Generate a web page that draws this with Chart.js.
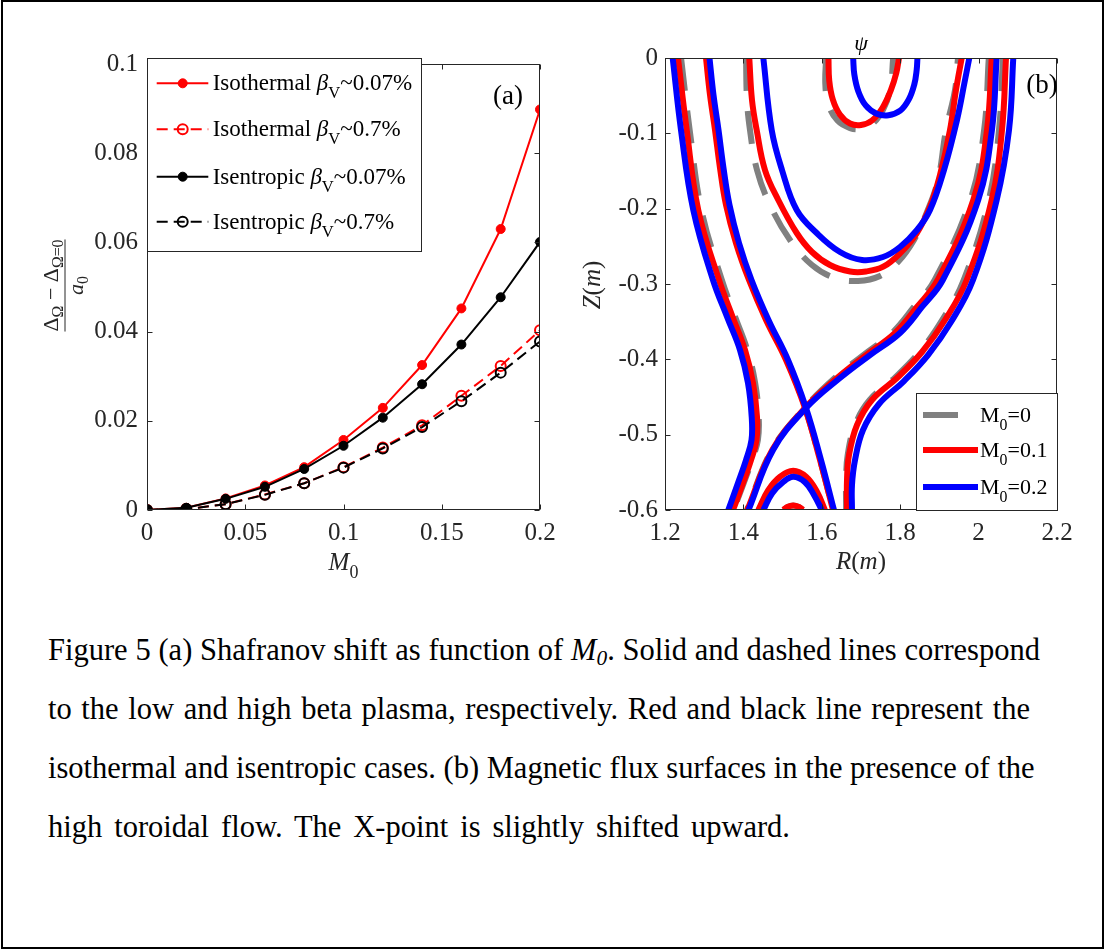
<!DOCTYPE html>
<html>
<head>
<meta charset="utf-8">
<script src="https://cdn.jsdelivr.net/npm/chart.js@4.4.1/dist/chart.umd.min.js"></script>
<style>
  html, body { margin: 0; padding: 0; background: #fff; }
  body { width: 1105px; height: 950px; position: relative; overflow: hidden; font-family: "Liberation Serif", "Times New Roman", serif; }
  #frame { position: absolute; left: 1px; top: 0; width: 1103px; height: 949px; border: 2px solid #000; box-sizing: border-box; }
  #wrapA { position: absolute; left: 40px; top: 40px; }
  #wrapB { position: absolute; left: 575px; top: 20px; }
  #caption { position: absolute; left: 48px; top: 621px; font-size: 30.5px; line-height: 59px; color: #000; white-space: nowrap; }
  #caption div { text-align: justify; text-align-last: justify; height: 59px; }
  #caption sub { font-size: 0.7em; line-height: 0; vertical-align: -0.25em; }
</style>
</head>
<body>
<div id="frame"></div>
<div id="wrapA"><canvas id="chartA" width="530" height="560"></canvas></div>
<div id="wrapB"><canvas id="chartB" width="520" height="580"></canvas></div>
<div id="caption">
  <div style="width:992px">Figure 5 (a) Shafranov shift as function of <i>M<sub>0</sub></i>. Solid and dashed lines correspond</div>
  <div style="width:982px">to the low and high beta plasma, respectively. Red and black line represent the</div>
  <div style="width:985px">isothermal and isentropic cases. (b) Magnetic flux surfaces in the presence of the</div>
  <div style="width:742px">high toroidal flow. The X-point is slightly shifted upward.</div>
</div>

<script>
// ---- panel (a): shift vs M0 ----
const machNumbers = [0, 0.02, 0.04, 0.06, 0.08, 0.1, 0.12, 0.14, 0.16, 0.18, 0.2];
const isothermalLow = [0, 0.0005, 0.0026, 0.0055, 0.0096, 0.0157, 0.0229, 0.0325, 0.0452, 0.063, 0.0898];
const isothermalHigh = [0, 0.0002, 0.0013, 0.0035, 0.006, 0.0096, 0.014, 0.019, 0.0256, 0.0323, 0.0403];
const isentropicLow = [0, 0.0005, 0.0025, 0.0052, 0.0092, 0.0144, 0.0207, 0.0282, 0.0371, 0.0477, 0.0601];
const isentropicHigh = [0, 0.0002, 0.0013, 0.0034, 0.006, 0.0095, 0.0138, 0.0186, 0.0244, 0.0308, 0.0378];
const xTicksA = [0, 0.05, 0.1, 0.15, 0.2];
const yTicksA = [0, 0.02, 0.04, 0.06, 0.08, 0.1];

// ---- panel (b): flux surfaces, [R, Z] pairs ----
// M0 = 0
const outerL_m00 = [[1.241,0],[1.263,-0.0956],[1.293,-0.2018],[1.345,-0.2947],[1.380,-0.3451],[1.410,-0.3876],[1.430,-0.4314],[1.439,-0.4766],[1.437,-0.5071],[1.422,-0.5337],[1.401,-0.5642],[1.375,-0.6]];
const sepA_m00 = [[1.307,0],[1.317,-0.0491],[1.330,-0.0956],[1.343,-0.146],[1.358,-0.1951],[1.384,-0.2456],[1.417,-0.2947],[1.460,-0.3478],[1.511,-0.4009],[1.5575,-0.4646],[1.5957,-0.5337],[1.6289,-0.6]];
const sepB_m00 = [[2.026,0],[2.014,-0.0956],[1.979,-0.1885],[1.888,-0.2947],[1.835,-0.3305],[1.779,-0.365],[1.706,-0.3943],[1.633,-0.4248],[1.556,-0.4646],[1.473,-0.52],[1.409,-0.6]];
const outerR_m00 = [[2.062,0],[2.052,-0.0956],[2.026,-0.1885],[1.962,-0.2947],[1.907,-0.3478],[1.849,-0.3903],[1.788,-0.4235],[1.722,-0.454],[1.685,-0.4872],[1.666,-0.527],[1.662,-0.5602],[1.662,-0.6]];
const midU_m00 = [[1.4066,0],[1.4092,-0.0558],[1.4168,-0.0956],[1.4347,-0.1487],[1.4679,-0.1951],[1.5189,-0.2416],[1.575,-0.2748],[1.6337,-0.292],[1.6923,-0.296],[1.7485,-0.2894],[1.7944,-0.2708],[1.8352,-0.2416],[1.8684,-0.2044],[1.8964,-0.162],[1.9168,-0.0956],[1.9398,-0.0425],[1.9474,0]];
const coreU_m00 = [[1.611,0],[1.609,-0.035],[1.617,-0.062],[1.640,-0.083],[1.672,-0.093],[1.700,-0.094],[1.730,-0.087],[1.757,-0.068],[1.775,-0.040],[1.782,0]];
const privU_m00 = [[1.440,-0.6],[1.464,-0.575],[1.494,-0.557],[1.527,-0.549],[1.559,-0.557],[1.587,-0.577],[1.606,-0.6]];
const privDot_m00 = [[1.503,-0.6],[1.513,-0.596],[1.527,-0.594],[1.541,-0.596],[1.551,-0.6]];
// M0 = 0.1
const outerL_m01 = [[1.2332,0],[1.2554,-0.0956],[1.2849,-0.2018],[1.3378,-0.2947],[1.3735,-0.3451],[1.4041,-0.3876],[1.4245,-0.4314],[1.4347,-0.4766],[1.4334,-0.5071],[1.4194,-0.5337],[1.399,-0.5642],[1.3735,-0.6]];
const sepA_m01 = [[1.3046,0],[1.3148,-0.0491],[1.3276,-0.0956],[1.3403,-0.146],[1.3556,-0.1951],[1.3811,-0.2456],[1.4143,-0.2947],[1.4577,-0.3478],[1.5087,-0.4009],[1.5571,-0.4646],[1.5954,-0.5337],[1.6286,-0.6]];
const sepB_m01 = [[2.0334,0],[2.0214,-0.0956],[1.9865,-0.1885],[1.8954,-0.2947],[1.8429,-0.3305],[1.7867,-0.365],[1.7128,-0.3943],[1.6388,-0.4248],[1.5571,-0.4646],[1.474,-0.52],[1.410,-0.6]];
const outerR_m01 = [[2.0699,0],[2.0597,-0.0956],[2.0334,-0.1885],[1.9696,-0.2947],[1.9143,-0.3478],[1.8556,-0.3903],[1.7944,-0.4235],[1.728,-0.454],[1.6898,-0.4872],[1.6694,-0.527],[1.6643,-0.5602],[1.6643,-0.6]];
const midU_m01 = [[1.415,0],[1.4219,-0.0558],[1.4339,-0.0956],[1.4551,-0.1487],[1.489,-0.1885],[1.536,-0.2323],[1.575,-0.2575],[1.6209,-0.2748],[1.6722,-0.2834],[1.7128,-0.2834],[1.7569,-0.277],[1.7995,-0.2593],[1.8421,-0.2327],[1.876,-0.1974],[1.9015,-0.1553],[1.927,-0.0956],[1.9423,-0.0425],[1.9569,0]];
const coreU_m01 = [[1.617,0],[1.619,-0.030],[1.628,-0.055],[1.646,-0.075],[1.672,-0.087],[1.700,-0.089],[1.728,-0.083],[1.755,-0.066],[1.776,-0.043],[1.790,-0.020],[1.797,0]];
const privU_m01 = [[1.438,-0.6],[1.463,-0.574],[1.493,-0.556],[1.527,-0.548],[1.560,-0.556],[1.588,-0.576],[1.608,-0.6]];
const privDot_m01 = [[1.502,-0.6],[1.512,-0.596],[1.527,-0.594],[1.542,-0.596],[1.552,-0.6]];
// M0 = 0.2
const outerL_m02 = [[1.2196,0],[1.2408,-0.0956],[1.2722,-0.2018],[1.3224,-0.2947],[1.3594,-0.3451],[1.3913,-0.3876],[1.4117,-0.4314],[1.4212,-0.4766],[1.4207,-0.5071],[1.4066,-0.5337],[1.3862,-0.5642],[1.3615,-0.6]];
const sepA_m02 = [[1.3135,0],[1.3237,-0.0491],[1.3365,-0.0956],[1.3492,-0.146],[1.3645,-0.1951],[1.3888,-0.2456],[1.4207,-0.2947],[1.464,-0.3478],[1.5138,-0.4009],[1.5597,-0.4646],[1.598,-0.5337],[1.6311,-0.6]];
const sepB_m02 = [[2.046,0],[2.034,-0.0956],[1.999,-0.1885],[1.9087,-0.2947],[1.8556,-0.3305],[1.7995,-0.365],[1.723,-0.3943],[1.6464,-0.4248],[1.5597,-0.4646],[1.476,-0.52],[1.413,-0.6]];
const outerR_m02 = [[2.0885,0],[2.0776,-0.0956],[2.0462,-0.1885],[1.9857,-0.2947],[1.9296,-0.3505],[1.8709,-0.3943],[1.8097,-0.4288],[1.7459,-0.4593],[1.7051,-0.4938],[1.6847,-0.5337],[1.677,-0.5668],[1.677,-0.6]];
const midU_m02 = [[1.4508,0],[1.4722,-0.0956],[1.4985,-0.1487],[1.536,-0.2018],[1.587,-0.2323],[1.6464,-0.2575],[1.7026,-0.2681],[1.7561,-0.2642],[1.7995,-0.2509],[1.8429,-0.2283],[1.876,-0.2018],[1.9117,-0.1487],[1.9449,-0.0823],[1.9653,-0.0292],[1.9763,0]];
const coreU_m02 = [[1.680,0],[1.683,-0.022],[1.693,-0.044],[1.712,-0.063],[1.740,-0.074],[1.770,-0.076],[1.800,-0.070],[1.822,-0.055],[1.836,-0.035],[1.842,-0.016],[1.844,0]];
const privU_m02 = [[1.451,-0.6],[1.473,-0.578],[1.501,-0.563],[1.527,-0.556],[1.557,-0.563],[1.580,-0.580],[1.600,-0.6]];
const xTicksB = [1.2, 1.4, 1.6, 1.8, 2, 2.2];
const yTicksB = [0, -0.1, -0.2, -0.3, -0.4, -0.5, -0.6];

const AXIS = '#262626';
const FONT = '"Liberation Serif", "Times New Roman", serif';
const RED = '#ff0000', BLUE = '#0000ff', GRAY = '#808080', BLACK = '#000000';

function toPoints(xs, ys) { return xs.map((x, i) => ({ x: x, y: ys[i] })); }
function pairsToPoints(pairs) { return pairs.map(p => ({ x: p[0], y: p[1] })); }

// text runs: [text, style] with 'i' italic and 's' subscript
function drawRich(ctx, parts, x, y, size, align, subDrop) {
  const drop = subDrop === undefined ? 0.3 : subDrop;
  const fontFor = p => (p[1].includes('i') ? 'italic ' : '') + (p[1].includes('s') ? size * 0.72 : size) + 'px ' + FONT;
  let total = 0;
  parts.forEach(p => { ctx.font = fontFor(p); total += ctx.measureText(p[0]).width; });
  let cx = align === 'center' ? x - total / 2 : (align === 'right' ? x - total : x);
  ctx.textAlign = 'left';
  ctx.textBaseline = 'alphabetic';
  parts.forEach(p => {
    ctx.font = fontFor(p);
    ctx.fillText(p[0], cx, y + (p[1].includes('s') ? size * drop : 0));
    cx += ctx.measureText(p[0]).width;
  });
  return total;
}

function partsFor(label) {
  if (label.includes('βV')) {
    const bits = label.split('βV');
    return [[bits[0], ''], ['β', 'i'], ['V', 's'], [bits[1], '']];
  }
  if (label.startsWith('M0')) return [['M', ''], ['0', 's'], [label.slice(2), '']];
  return [[label, '']];
}

// box around the axes with inward ticks on all four sides, then the extras
function boxPlugin(extra) {
  return {
    id: 'box',
    afterDraw(chart) {
      const ctx = chart.ctx, a = chart.chartArea;
      const xs = chart.scales.x, ys = chart.scales.y;
      const L = Math.round(a.left) + 0.5, R = Math.round(a.right) - 0.5;
      const T = Math.round(a.top) + 0.5, B = Math.round(a.bottom) - 0.5;
      ctx.save();
      ctx.strokeStyle = AXIS;
      ctx.lineWidth = 1;
      ctx.setLineDash([]);
      ctx.strokeRect(L, T, R - L, B - T);
      ctx.beginPath();
      xs.ticks.forEach(t => {
        const p = Math.round(xs.getPixelForValue(t.value)) + 0.5;
        ctx.moveTo(p, B); ctx.lineTo(p, B - 5);
        ctx.moveTo(p, T); ctx.lineTo(p, T + 5);
      });
      ys.ticks.forEach(t => {
        const p = Math.round(ys.getPixelForValue(t.value)) + 0.5;
        ctx.moveTo(L, p); ctx.lineTo(L + 5, p);
        ctx.moveTo(R, p); ctx.lineTo(R - 5, p);
      });
      ctx.stroke();
      ctx.restore();
      ctx.save();
      extra(chart, ctx);
      ctx.restore();
    }
  };
}

function tickLabel(v) { return String(Math.round(v * 1000) / 1000); }

function axisOptions(min, max, ticks, pad, fit) {
  return {
    type: 'linear', min: min, max: max,
    grid: { display: false, drawTicks: false },
    border: { display: false },
    ticks: { autoSkip: false, maxRotation: 0, padding: pad, color: AXIS, font: { family: FONT, size: 25 }, callback: tickLabel },
    afterBuildTicks: s => { s.ticks = ticks.map(v => ({ value: v })); },
    afterFit: fit
  };
}

// ---- panel (a) decorations ----
function drawDecorA(chart, ctx) {
  ctx.fillStyle = '#000';
  // y title as a fraction
  ctx.save();
  ctx.translate(25, 245.5);
  ctx.rotate(-Math.PI / 2);
  ctx.fillStyle = AXIS;
  const w = drawRich(ctx, [['Δ', ''], ['Ω', 's'], [' − ', ''], ['Δ', ''], ['Ω=0', 's']], 0, -7, 22, 'center', 0.22);
  ctx.strokeStyle = AXIS; ctx.lineWidth = 1;
  ctx.beginPath(); ctx.moveTo(-w / 2, 0); ctx.lineTo(w / 2, 0); ctx.stroke();
  drawRich(ctx, [['a', 'i'], ['0', 's']], 0, 18, 22, 'center', 0.22);
  ctx.restore();
  // x title
  ctx.fillStyle = AXIS;
  drawRich(ctx, [['M', 'i'], ['0', 's']], 303.5, 530, 25, 'center');
  ctx.fillStyle = '#000';
  drawRich(ctx, [['(a)', '']], 468, 64, 27, 'center');
  // legend
  const bx = 107, by = 18, bw = 274, bh = 193;
  ctx.fillStyle = '#fff';
  ctx.fillRect(bx, by, bw, bh);
  ctx.strokeStyle = AXIS; ctx.lineWidth = 1;
  ctx.strokeRect(bx + 0.5, by + 0.5, bw, bh);
  const rows = [43.3, 89.3, 136.7, 181.7];
  chart.data.datasets.forEach((ds, i) => {
    const y = rows[i];
    ctx.strokeStyle = ds.borderColor;
    ctx.lineWidth = ds.borderWidth;
    ctx.setLineDash(ds.borderDash || []);
    ctx.beginPath(); ctx.moveTo(116.7, y); ctx.lineTo(168.3, y); ctx.stroke();
    ctx.setLineDash([]);
    ctx.beginPath(); ctx.arc(142.7, y, ds.pointRadius, 0, Math.PI * 2);
    ctx.fillStyle = ds.backgroundColor; ctx.fill();
    ctx.lineWidth = ds.pointBorderWidth; ctx.stroke();
    ctx.fillStyle = '#000';
    drawRich(ctx, partsFor(ds.label), 172.7, y + 7, 23, 'left', 0.35);
  });
}

// ---- panel (b) decorations ----
function drawDecorB(chart, ctx) {
  ctx.fillStyle = '#000';
  drawRich(ctx, [['ψ', 'i']], 286, 30, 22, 'center');
  drawRich(ctx, [['(b)', '']], 467, 73, 27, 'center');
  ctx.fillStyle = AXIS;
  drawRich(ctx, [['R', 'i'], ['(', ''], ['m', 'i'], [')', '']], 286, 549, 25, 'center');
  ctx.save();
  ctx.translate(25, 265);
  ctx.rotate(-Math.PI / 2);
  drawRich(ctx, [['Z', 'i'], ['(', ''], ['m', 'i'], [')', '']], 0, 0, 25, 'center');
  ctx.restore();
  // legend
  const bx = 341, by = 373, bw = 141, bh = 117;
  ctx.fillStyle = '#fff';
  ctx.fillRect(bx, by, bw, bh);
  ctx.strokeStyle = AXIS; ctx.lineWidth = 1; ctx.setLineDash([]);
  ctx.strokeRect(bx + 0.5, by + 0.5, bw, bh);
  const rows = [395, 430, 467];
  const seen = [];
  chart.data.datasets.forEach(ds => { if (!seen.some(s => s.label === ds.label)) seen.push(ds); });
  seen.forEach((ds, i) => {
    const y = rows[i];
    ctx.strokeStyle = ds.borderColor;
    ctx.lineWidth = ds.borderWidth;
    ctx.setLineDash([]);
    ctx.beginPath(); ctx.moveTo(348, y); ctx.lineTo(ds.borderDash ? 383 : 403, y); ctx.stroke();
    ctx.fillStyle = '#000';
    drawRich(ctx, partsFor(ds.label), 405, y + 7, 22, 'left', 0.35);
  });
}

// ---- chart (a) ----
new Chart(document.getElementById('chartA'), {
  type: 'scatter',
  data: {
    datasets: [
      { label: 'Isothermal βV~0.07%', data: toPoints(machNumbers, isothermalLow), showLine: true, tension: 0,
        borderColor: RED, backgroundColor: RED, borderWidth: 2, pointRadius: 4.5, pointBorderWidth: 1, order: 2 },
      { label: 'Isothermal βV~0.7%', data: toPoints(machNumbers, isothermalHigh), showLine: true, tension: 0,
        borderColor: RED, backgroundColor: 'rgba(0,0,0,0)', borderWidth: 2, borderDash: [11, 6], pointRadius: 5, pointBorderWidth: 2, order: 2 },
      { label: 'Isentropic βV~0.07%', data: toPoints(machNumbers, isentropicLow), showLine: true, tension: 0,
        borderColor: BLACK, backgroundColor: BLACK, borderWidth: 2, pointRadius: 4.5, pointBorderWidth: 1, order: 1 },
      { label: 'Isentropic βV~0.7%', data: toPoints(machNumbers, isentropicHigh), showLine: true, tension: 0,
        borderColor: BLACK, backgroundColor: 'rgba(0,0,0,0)', borderWidth: 2, borderDash: [11, 6], pointRadius: 5, pointBorderWidth: 2, order: 1 }
    ]
  },
  options: {
    responsive: false,
    animation: false,
    layout: { padding: { left: 0, top: 18, right: 30, bottom: 0 } },
    plugins: { legend: { display: false }, tooltip: { enabled: false } },
    scales: {
      x: axisOptions(0, 0.2, xTicksA, 8, s => { s.height = 90; }),
      y: axisOptions(0, 0.1, yTicksA, 9, s => { s.width = 107; })
    }
  },
  plugins: [boxPlugin(drawDecorA)]
});

// ---- chart (b) ----
const groupsB = [
  { label: 'M0=0', color: GRAY, dash: [33, 20], order: 3,
    curves: [outerL_m00, sepA_m00, sepB_m00, outerR_m00, midU_m00, coreU_m00, privU_m00, privDot_m00] },
  { label: 'M0=0.1', color: RED, dash: null, order: 2,
    curves: [outerL_m01, sepA_m01, sepB_m01, outerR_m01, midU_m01, coreU_m01, privU_m01, privDot_m01] },
  { label: 'M0=0.2', color: BLUE, dash: null, order: 1,
    curves: [outerL_m02, sepA_m02, sepB_m02, outerR_m02, midU_m02, coreU_m02, privU_m02] }
];
const datasetsB = [];
groupsB.forEach(g => {
  g.curves.forEach(c => {
    const ds = { label: g.label, data: pairsToPoints(c), showLine: true, tension: 0.4,
      borderColor: g.color, backgroundColor: g.color, borderWidth: 6, pointRadius: 0, order: g.order };
    if (g.dash) ds.borderDash = g.dash;
    datasetsB.push(ds);
  });
});

new Chart(document.getElementById('chartB'), {
  type: 'scatter',
  data: { datasets: datasetsB },
  options: {
    responsive: false,
    animation: false,
    layout: { padding: { left: 0, top: 38, right: 38, bottom: 0 } },
    plugins: { legend: { display: false }, tooltip: { enabled: false } },
    scales: {
      x: axisOptions(1.2, 2.2, xTicksB, 8, s => { s.height = 90; }),
      y: axisOptions(-0.6, 0, yTicksB, 7, s => { s.width = 90; })
    }
  },
  plugins: [boxPlugin(drawDecorB)]
});
</script>
</body>
</html>
